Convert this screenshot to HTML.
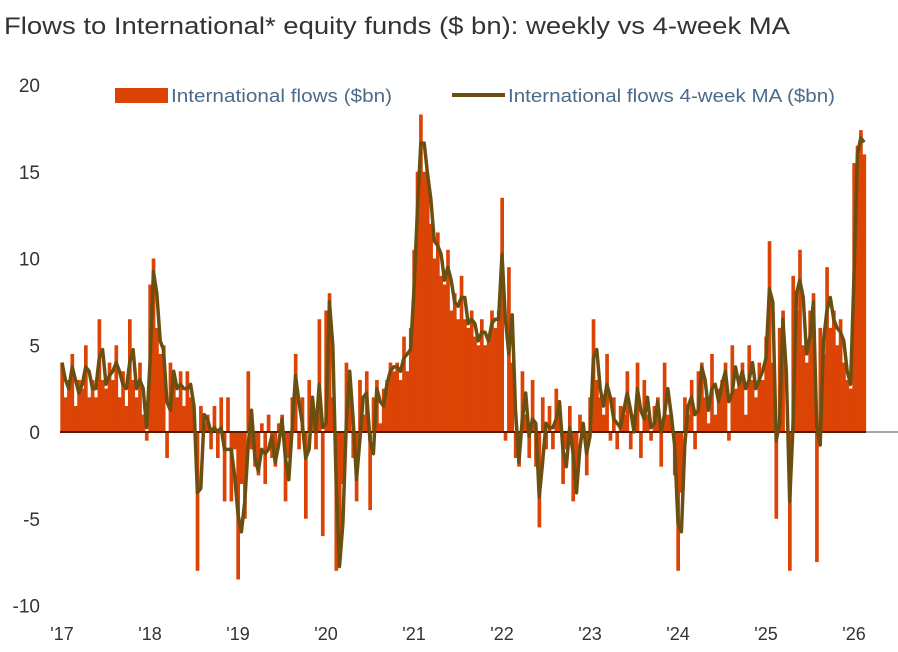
<!DOCTYPE html>
<html><head><meta charset="utf-8"><style>
body{margin:0;background:#fff;width:898px;height:647px;overflow:hidden;font-family:"Liberation Sans",sans-serif}
svg text{font-family:"Liberation Sans",sans-serif}
</style></head><body>
<svg id="c" width="898" height="647">
<text x="4" y="34" font-size="24" fill="#333" textLength="786" lengthAdjust="spacingAndGlyphs">Flows to International* equity funds ($ bn): weekly vs 4-week MA</text>
<g id="yax"></g><g id="xax"></g><g id="bars"></g><g id="zl"></g><g id="ma"></g>
<g>
<rect x="115" y="88" width="53" height="15" fill="#dc4405"/>
<text x="171" y="102" font-size="18" fill="#4a6b8a" textLength="221" lengthAdjust="spacingAndGlyphs">International flows ($bn)</text>
<line x1="452" y1="95" x2="505" y2="95" stroke="#6b4f10" stroke-width="4"/>
<text x="508" y="102" font-size="18" fill="#4a6b8a" textLength="327" lengthAdjust="spacingAndGlyphs">International flows 4-week MA ($bn)</text>
</g>
</svg>
<script>
const yTicks=[20,15,10,5,0,-5,-10];
const xLabels=["'17","'18","'19","'20","'21","'22","'23","'24","'25","'26"];
const flows=[
4,2,3,4.5,1.5,3,2.5,5,2,3,2,6.5,3,2.5,4,3,5,2,3.5,1.5,6.5,3,2,4,1,-0.5,
8.5,10,6,4.5,5,-1.5,4,3,2,3.5,1.5,3.5,2,1,-8,1.5,0.5,1,-1,1.5,-1.5,2,-4,2,-4,-1,
-8.5,-3,-5,3.5,-1,-2,-2.5,0.5,-3,1,-1.5,-2,0.5,1,-4,-1.5,2,4.5,-1,2,-5,3,1,-1,6.5,-6,
7,8,2,-8,-7.5,-3,4,3,-1.5,-4,3,1,3.5,-4.5,2,3,0.5,2.5,3,4,3.5,4,3,5.5,3.5,6,
10.5,15,18.3,15,14.8,12,10,11.5,9,8.5,10.5,7,8,6.5,9,6.5,6,7,5.5,5,6.5,5,5.5,7,6,7,
13.5,-0.5,9.5,4,-1.5,-2,3.5,1,-1.5,3,-2,-5.5,2,-1,1.5,-1,2.5,1,-3,-1,1.5,-4,-3,1,0,-2.5,
2,6.5,3,2,1,4.5,-0.5,2,-1,1.5,1,3.5,-1,1,4,-1.5,3,1,-0.5,1.5,2,-2,4,1,1,-2.5,
-8,-3.5,2,1,3,-1,3.5,4,2,0.5,4.5,1,2.5,3,4,-0.5,5,2.5,3,4,1,5,3,2,4,3,
5.5,11,4,-5,6,7,0,-8,9,7,10.5,5,4,7,8,-7.5,6,4.5,9.5,6,7,5,6.5,4,3,2.5,
15.5,16.5,17.4,16];
const NS="http://www.w3.org/2000/svg";
const x0=62,yr=88,per=26,step=yr/per;
function X(i){return x0+i*step}
function Y(v){return 432-v*17.35}
function mk(t,a,p){const e=document.createElementNS(NS,t);for(const k in a)e.setAttribute(k,a[k]);p.appendChild(e);return e}
const yax=document.getElementById('yax');
yTicks.forEach(v=>{const t=mk('text',{x:40,y:Y(v)+7,'font-size':19,fill:'#333','text-anchor':'end'},yax);t.textContent=v;

});
const xax=document.getElementById('xax');
xLabels.forEach((l,i)=>{const t=mk('text',{x:x0+i*yr,y:640,'font-size':18,fill:'#333','text-anchor':'middle'},xax);t.textContent=l;

});
const bars=document.getElementById('bars');
flows.forEach((v,i)=>{const r=mk('rect',{x:X(i)-step/2,y:Math.min(Y(v),Y(0)),width:step+0.3,height:Math.abs(Y(v)-Y(0)),fill:'#dc4405'},bars);

});
const zl=document.getElementById('zl');
const z1=mk('line',{x1:60,y1:Y(0),x2:X(flows.length-1)+2,y2:Y(0),stroke:'#5a1a00','stroke-width':2},zl);


const z2=mk('line',{x1:X(flows.length-1)+2,y1:Y(0),x2:898,y2:Y(0),stroke:'#888','stroke-width':1.5},zl);


const ma=flows.map((v,i)=>i==0?v:(v+flows[i-1])/2);
const p=mk('path',{d:ma.map((v,i)=>(i?'L':'M')+X(i).toFixed(1)+','+Y(v).toFixed(1)).join(''),fill:'none',stroke:'#6b4f10','stroke-width':3.5,'stroke-linejoin':'round'},document.getElementById('ma'));


</script>
</body></html>
